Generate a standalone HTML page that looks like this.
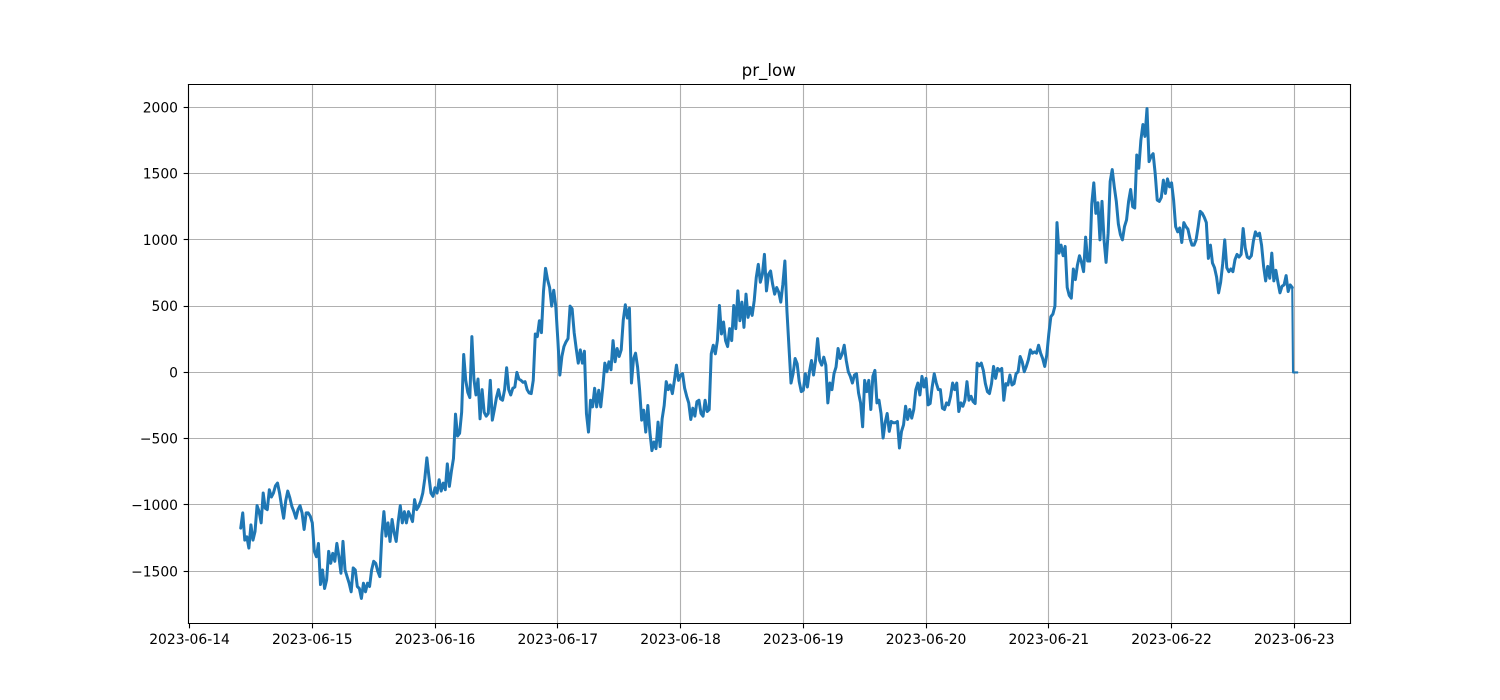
<!DOCTYPE html>
<html lang="en">
<head>
<meta charset="utf-8">
<title>pr_low</title>
<style>
  html, body { margin: 0; padding: 0; background: #ffffff; }
  svg { display: block; }
  text { font-family: "DejaVu Sans", "Liberation Sans", sans-serif; fill: #000000; }
</style>
</head>
<body>
<svg id="chart" xmlns="http://www.w3.org/2000/svg" width="1500" height="700" viewBox="0 0 1500 700">
  <rect x="0" y="0" width="1500" height="700" fill="#ffffff"></rect>
  <text x="768.75" y="76" font-size="16.67" text-anchor="middle">pr_low</text>
  <g id="grid"></g>
  <g id="series"></g>
  <g id="frame"></g>
  <g id="xticks"></g>
  <g id="yticks"></g>
</svg>
<script>
const xTickLabels = ['2023-06-14','2023-06-15','2023-06-16','2023-06-17','2023-06-18','2023-06-19','2023-06-20','2023-06-21','2023-06-22','2023-06-23'];
const yTickValues = [-1500,-1000,-500,0,500,1000,1500,2000];
const yTickLabels = ['\u22121500','\u22121000','\u2212500','0','500','1000','1500','2000'];

const prLow0614 = [
  -1175,-1060,-1265,-1240,-1325,-1150,-1265,-1200,-1005,-1050,
  -1135,-910,-1025,-1035,-885,-940,-910,-855,-835,-910,
  -1010,-1100,-970,-895,-945,-1010,-1050,-1100,-1035,-1005,
  -1060,-1185,-1060,-1060,-1085
];
const prLow0615 = [
  -1135,-1350,-1390,-1290,-1600,-1490,-1630,-1565,-1350,-1440,
  -1365,-1425,-1290,-1390,-1515,-1275,-1490,-1540,-1590,-1655,
  -1475,-1490,-1615,-1630,-1705,-1590,-1655,-1590,-1615,-1490,
  -1425,-1440,-1500,-1540,-1225,-1050,-1235,-1135,-1275,-1110,
  -1210,-1275,-1125,-1005,-1135,-1050,-1135,-1050,-1085,-1125,
  -960,-1035,-1010,-970,-910,-800,-645,-785,-910,-935
];
const prLow0616 = [
  -870,-910,-810,-895,-835,-885,-690,-860,-745,-650,
  -315,-480,-460,-300,135,-60,-150,-190,270,-50,
  -170,-50,-350,-130,-300,-330,-310,-60,-360,-280,
  -190,-130,-200,-210,-130,35,-130,-170,-120,-110,
  0,-50,-60,-75,-70,-130,-155,-160,-60,290,
  270,390,300,610,785,700,640,500,620,500
];
const prLow0617 = [
  250,-20,120,195,230,255,500,480,300,180,
  70,170,70,160,-310,-450,-210,-260,-120,-260,
  -135,-260,-110,70,5,80,20,240,80,180,
  120,170,395,510,410,485,-80,100,145,40,
  -135,-360,-285,-450,-250,-450,-590,-525,-575,-375,
  -560,-350,-250,-70,-130,-95,-160,-60,55,-60
];
const prLow0618 = [
  -20,-10,-120,-180,-230,-355,-270,-330,-220,-210,
  -310,-330,-210,-295,-280,140,205,140,240,505,
  290,380,240,195,330,240,505,330,615,390,
  530,340,590,415,490,430,540,715,815,680,
  740,890,615,740,765,665,590,640,605,530,
  665,840,465,190,-80,-10,105,65,-70,-145
];
const prLow0619 = [
  -135,-10,-110,5,90,-20,90,255,90,55,
  115,55,-230,-80,-130,-10,40,180,105,140,
  205,90,5,-30,-80,-20,-10,-155,-230,-410,
  -60,-145,-60,-280,-30,15,-230,-210,-310,-495,
  -380,-310,-445,-370,-380,-380,-370,-570,-445,-395,
  -255,-355,-280,-345,-280,-130,-80,-170,-30,-110
];
const prLow0620 = [
  -45,-245,-235,-110,-10,-80,-130,-130,-270,-280,
  -230,-245,-180,-80,-130,-80,-295,-230,-255,-210,
  -70,-210,-180,-220,-235,70,50,70,15,-85,
  -145,-160,-85,45,-45,30,15,30,-210,-85,
  -95,-20,-95,-85,-10,5,120,80,5,45,
  95,170,145,155,145,205,145,105,45,130
];
const prLow0621 = [
  290,420,440,500,1130,900,960,880,950,640,
  580,560,780,700,810,880,830,760,1020,840,
  840,1270,1430,1200,1280,1000,1290,1000,830,1050,
  1440,1530,1400,1290,1120,1040,1000,1100,1150,1290,
  1380,1250,1240,1640,1540,1750,1870,1780,1990,1590,
  1630,1650,1500,1300,1290,1320,1450,1350,1460,1400
];
const prLow0622 = [
  1430,1300,1100,1060,1090,980,1130,1100,1080,1010,
  960,960,1000,1100,1215,1200,1170,1130,860,960,
  825,790,720,600,680,820,1000,790,760,780,
  760,850,890,870,890,1085,940,870,860,880,
  990,1060,1030,1050,960,800,690,800,710,900,
  690,770,680,600,650,660,730,610,660,640
];
const prLowTailHours = [215.75,216,216.3,216.55];
const prLowTail = [0,0,0,0];

const DAY_PX = 122.75;
const X_ORIGIN = 189.55;
const Y_ZERO = 372.4;
const Y_PX_PER_UNIT = 0.13257;
const SVG_NS = 'http://www.w3.org/2000/svg';

function xScale(hours) { return X_ORIGIN + hours / 24 * DAY_PX; }
function yScale(v) { return Y_ZERO - v * Y_PX_PER_UNIT; }
function snap(p) { return Math.floor(p) + 0.5; }

function addLine(parent, x1, y1, x2, y2, color, width) {
  const l = document.createElementNS(SVG_NS, 'line');
  l.setAttribute('x1', x1);
  l.setAttribute('y1', y1);
  l.setAttribute('x2', x2);
  l.setAttribute('y2', y2);
  l.setAttribute('stroke', color);
  l.setAttribute('stroke-width', width);
  l.setAttribute('stroke-linecap', 'butt');
  parent.appendChild(l);
  return l;
}

const LEFT = 188.5, RIGHT = 1350.5, TOP = 84.5, BOTTOM = 623.5;
const gridG = document.getElementById('grid');
const xG = document.getElementById('xticks');
const yG = document.getElementById('yticks');
const frameG = document.getElementById('frame');
const seriesG = document.getElementById('series');

xTickLabels.forEach(function (label, i) {
  const x = snap(xScale(i * 24));
  if (i > 0) {
    const g = addLine(gridG, x, TOP, x, BOTTOM, '#b0b0b0', 1.11);
    
    
  }
  const t = addLine(xG, x, BOTTOM, x, BOTTOM + 4.86, '#000000', 1.11);
  
  
  const txt = document.createElementNS(SVG_NS, 'text');
  txt.setAttribute('x', xScale(i * 24));
  txt.setAttribute('y', 644);
  txt.setAttribute('font-size', '13.89');
  txt.setAttribute('text-anchor', 'middle');
  
  
  txt.textContent = label;
  xG.appendChild(txt);
});

yTickValues.forEach(function (v, i) {
  const y = snap(yScale(v));
  const g = addLine(gridG, LEFT, y, RIGHT, y, '#b0b0b0', 1.11);
  
  
  const t = addLine(yG, LEFT - 4.86, y, LEFT, y, '#000000', 1.11);
  
  
  const txt = document.createElementNS(SVG_NS, 'text');
  txt.setAttribute('x', 178);
  txt.setAttribute('y', yScale(v) + 5);
  txt.setAttribute('font-size', '13.89');
  txt.setAttribute('text-anchor', 'end');
  
  
  txt.textContent = yTickLabels[i];
  yG.appendChild(txt);
});

const segments = [
  { startHour: 10, spanHours: 14, values: prLow0614 },
  { startHour: 24, spanHours: 24, values: prLow0615 },
  { startHour: 48, spanHours: 24, values: prLow0616 },
  { startHour: 72, spanHours: 24, values: prLow0617 },
  { startHour: 96, spanHours: 24, values: prLow0618 },
  { startHour: 120, spanHours: 24, values: prLow0619 },
  { startHour: 144, spanHours: 24, values: prLow0620 },
  { startHour: 168, spanHours: 24, values: prLow0621 },
  { startHour: 192, spanHours: 24, values: prLow0622 }
];

const pts = [];
segments.forEach(function (s) {
  s.values.forEach(function (v, i) {
    const h = s.startHour + i * s.spanHours / s.values.length;
    pts.push(xScale(h).toFixed(2) + ',' + yScale(v).toFixed(2));
  });
});

const tailPts = [pts[pts.length - 1]];
prLowTail.forEach(function (v, i) {
  tailPts.push(xScale(prLowTailHours[i]).toFixed(2) + ',' + yScale(v).toFixed(2));
});

const tailLine = document.createElementNS(SVG_NS, 'polyline');
tailLine.setAttribute('points', tailPts.join(' '));
tailLine.setAttribute('fill', 'none');
tailLine.setAttribute('stroke', '#1f77b4');
tailLine.setAttribute('stroke-width', '2.08');
tailLine.setAttribute('stroke-linejoin', 'round');
tailLine.setAttribute('stroke-linecap', 'square');


seriesG.appendChild(tailLine);

const line = document.createElementNS(SVG_NS, 'polyline');
line.setAttribute('points', pts.join(' '));
line.setAttribute('fill', 'none');
line.setAttribute('stroke', '#1f77b4');
line.setAttribute('stroke-width', '3');
line.setAttribute('stroke-linejoin', 'round');
line.setAttribute('stroke-linecap', 'round');


seriesG.appendChild(line);

[[LEFT, TOP, LEFT, BOTTOM, 'left-spine'], [RIGHT, TOP, RIGHT, BOTTOM, 'right-spine'], [LEFT, TOP, RIGHT, TOP, 'top-spine'], [LEFT, BOTTOM, RIGHT, BOTTOM, 'bottom-spine']].forEach(function (s) {
  const l = addLine(frameG, s[0], s[1], s[2], s[3], '#000000', 1.11);
  l.setAttribute('stroke-linecap', 'square');
  
  
});
</script>
</body>
</html>
